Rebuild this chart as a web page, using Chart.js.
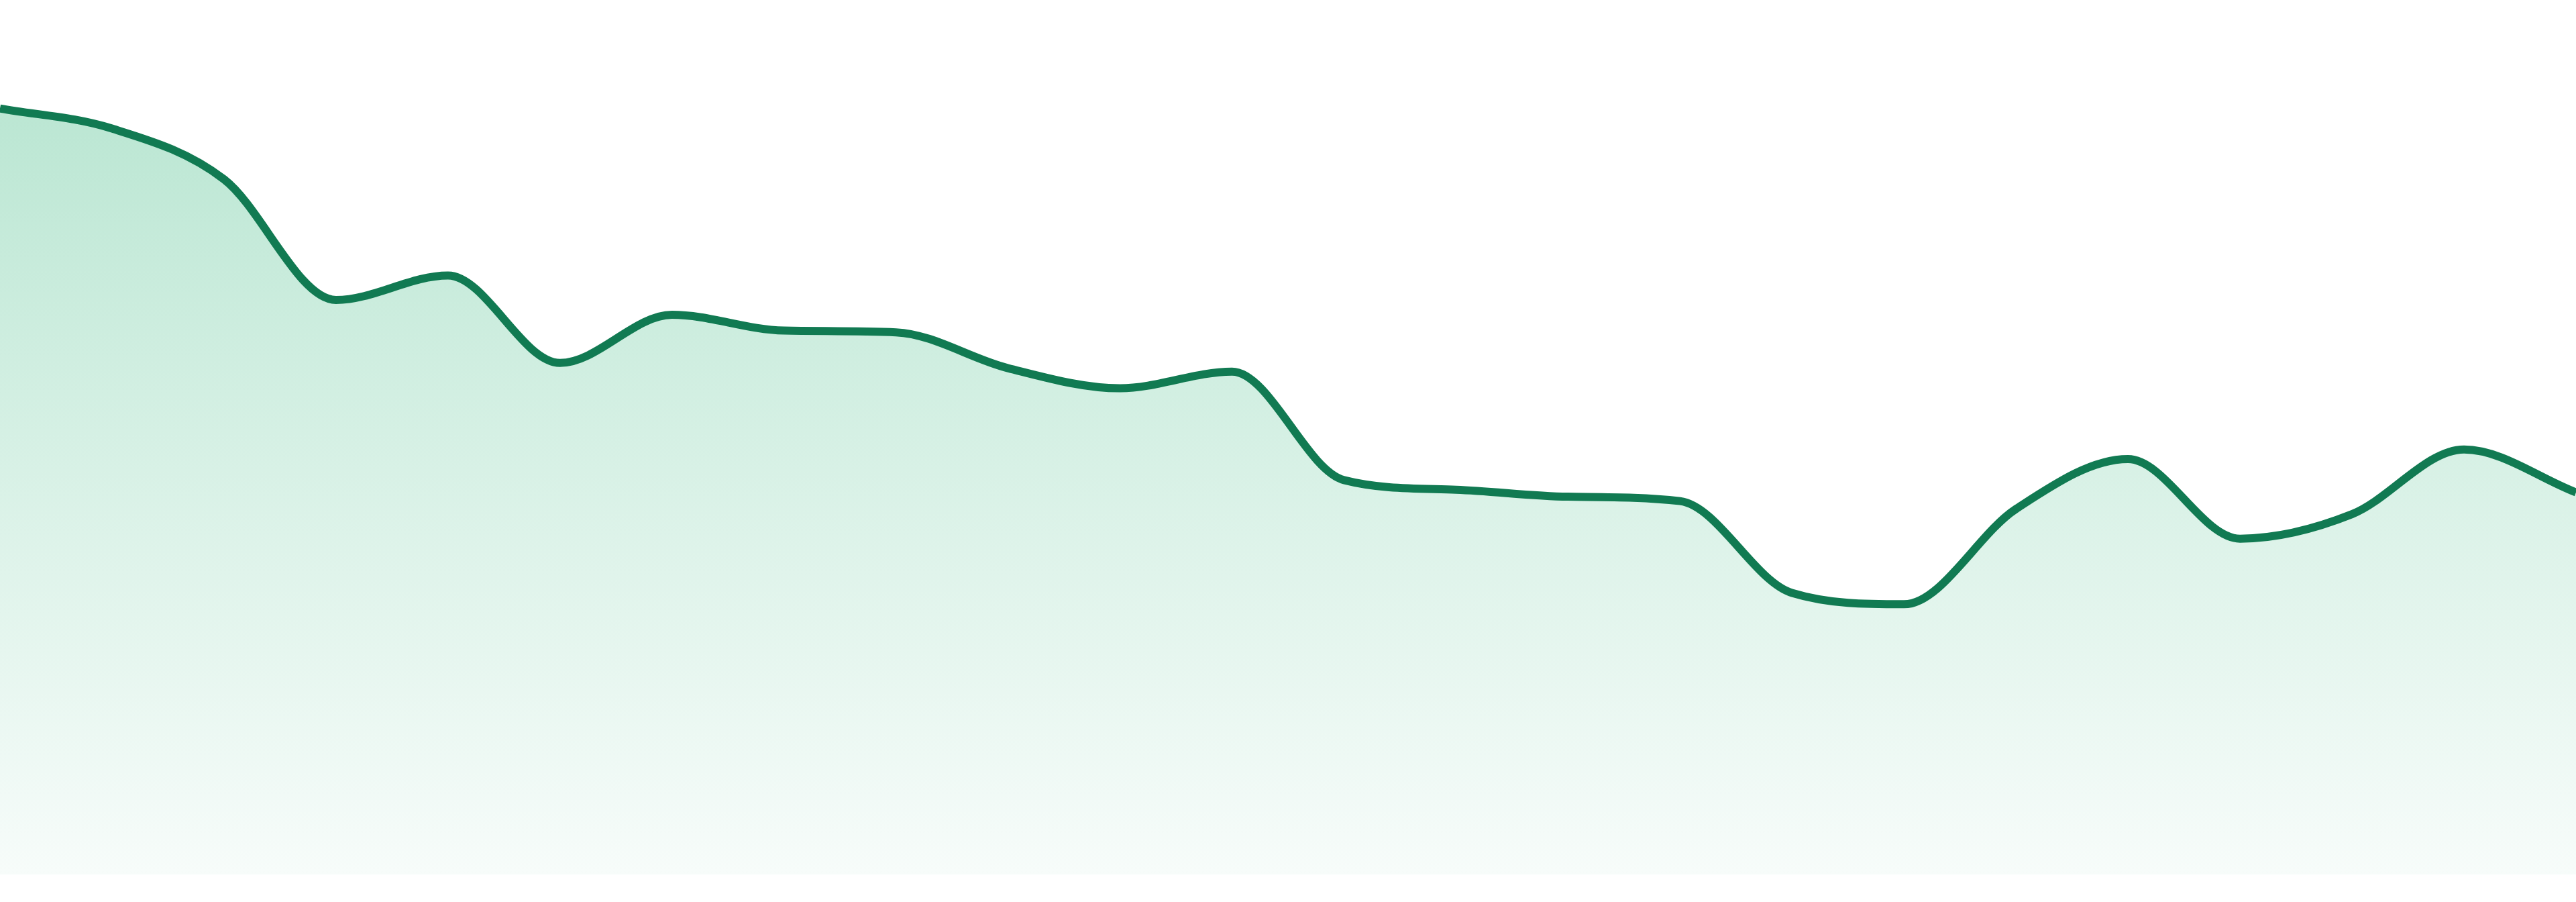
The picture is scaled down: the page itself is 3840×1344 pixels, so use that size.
<!DOCTYPE html>
<html>
<head>
<meta charset="utf-8">
<script src="https://cdn.jsdelivr.net/npm/chart.js@4/dist/chart.umd.min.js"></script>
<style>
  html, body { margin: 0; padding: 0; background: #ffffff; }
  .chart-container { position: relative; width: 3840px; height: 1344px; }
</style>
</head>
<body>
<div class="chart-container"><canvas id="chart"></canvas></div>
<script>
// 24 evenly spaced samples, axes hidden
const labels = Array.from({ length: 24 }, (_, i) => String(i + 1));
const values = [
  87.6, 85.3, 79.5, 65.7, 68.5, 58.5, 64.0, 62.2, 62.0, 57.9, 55.6, 57.5,
  45.1, 44.0, 43.2, 42.7, 32.2, 30.9, 41.8, 47.5, 38.4, 41.2, 48.6, 43.7,
];
const yMin = 0;
const yMax = 100;

const lineColor = '#117a52';

function areaGradient(context) {
  const { chart } = context;
  const area = chart.chartArea;
  if (!area) return 'rgba(180, 228, 207, 0.8)';
  const g = chart.ctx.createLinearGradient(0, area.top, 0, area.bottom);
  g.addColorStop(0, '#b2e3cd');
  g.addColorStop(0.45, '#d2efe2');
  g.addColorStop(1, '#f7fcfa');
  return g;
}

new Chart(document.getElementById('chart').getContext('2d'), {
  type: 'line',
  data: {
    labels,
    datasets: [{
      data: values,
      borderColor: lineColor,
      backgroundColor: areaGradient,
      borderWidth: 12,
      fill: 'start',
      cubicInterpolationMode: 'monotone',
      pointRadius: 0,
      pointHoverRadius: 0,
    }],
  },
  options: {
    responsive: true,
    maintainAspectRatio: false,
    animation: false,
    devicePixelRatio: 1,
    layout: { padding: { top: 0, bottom: 41, left: 0, right: 0 } },
    plugins: {
      legend: { display: false },
      tooltip: { enabled: false },
    },
    scales: {
      x: { display: false, offset: false },
      y: { display: false, min: yMin, max: yMax },
    },
  },
});
</script>
</body>
</html>
